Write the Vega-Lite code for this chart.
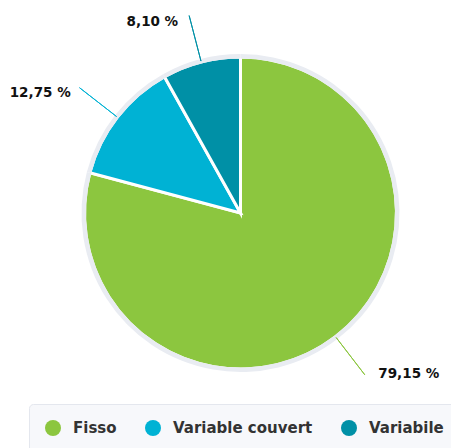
{
  "$schema": "https://vega.github.io/schema/vega-lite/v6.json",
  "width": 423,
  "height": 382,
  "autosize": {"type": "none"},
  "padding": {"left": 29, "top": 22, "right": 0, "bottom": 44},
  "background": "#ffffff",
  "config": {
    "view": {"stroke": null},
    "legend": {
      "orient": "bottom",
      "direction": "horizontal",
      "offset": 0,
      "padding": 16,
      "fillColor": "#f7f8fb",
      "strokeColor": "#e4e7ee",
      "cornerRadius": 4,
      "symbolType": "circle",
      "symbolSize": 256,
      "symbolStrokeWidth": 0,
      "labelFont": "DejaVu Sans",
      "labelFontSize": 15,
      "labelFontWeight": "bold",
      "labelColor": "#333333",
      "labelOffset": 12,
      "columnPadding": 28,
      "labelLimit": 300
    }
  },
  "data": {
    "values": [
      {"label": "Fisso", "value": 79.15, "pct": "79,15 %", "ord": 1},
      {"label": "Variable couvert", "value": 12.75, "pct": "12,75 %", "ord": 2},
      {"label": "Variabile", "value": 8.10, "pct": "8,10 %", "ord": 3}
    ]
  },
  "resolve": {"scale": {"theta": "independent"}},
  "encoding": {
    "color": {
      "field": "label",
      "type": "nominal",
      "scale": {
        "domain": ["Fisso", "Variable couvert", "Variabile"],
        "range": ["#8cc63f", "#00b2d4", "#0090a6"]
      },
      "legend": {"title": null}
    },
    "order": {"field": "ord", "type": "quantitative"}
  },
  "layer": [
    {
      "mark": {"type": "arc", "radius": 156, "stroke": "#ffffff", "strokeWidth": 3},
      "encoding": {"theta": {"field": "value", "type": "quantitative", "stack": true}}
    },
    {
      "mark": {"type": "arc", "radius": 159, "radius2": 154.5, "fill": "#e9ecf2", "stroke": null},
      "encoding": {"theta": {"field": "value", "type": "quantitative", "stack": true}}
    },
    {
      "mark": {"type": "arc", "radius": 204, "radius2": 157, "padAngle": 3.2, "filled": false, "strokeWidth": 1},
      "encoding": {
        "theta": {"field": "value", "type": "quantitative", "stack": true},
        "opacity": {"condition": {"test": "datum.label === 'Fisso'", "value": 0}, "value": 1}
      }
    },
    {
      "transform": [{"filter": "datum.label === 'Fisso'"}],
      "mark": {"type": "arc", "radius": 204, "radius2": 157, "filled": false, "strokeWidth": 1},
      "encoding": {
        "theta": {"field": "value", "type": "quantitative", "stack": null, "scale": {"domain": [0, 100], "range": [0, 3.14159265]}},
        "theta2": {"field": "value"}
      }
    },
    {
      "mark": {"type": "text", "radius": 200, "align": "right", "baseline": "middle", "dx": -12, "dy": 3, "font": "DejaVu Sans", "fontSize": 13.5, "fontWeight": "bold", "fill": "#111111"},
      "encoding": {
        "theta": {"field": "value", "type": "quantitative", "stack": true},
        "text": {"field": "pct"},
        "color": {"value": "#111111"},
        "opacity": {"condition": {"test": "datum.label === 'Fisso'", "value": 0}, "value": 1}
      }
    },
    {
      "mark": {"type": "text", "radius": 200, "align": "left", "baseline": "middle", "dx": 16, "dy": 2, "font": "DejaVu Sans", "fontSize": 13.5, "fontWeight": "bold", "fill": "#111111"},
      "encoding": {
        "theta": {"field": "value", "type": "quantitative", "stack": true},
        "text": {"field": "pct"},
        "color": {"value": "#111111"},
        "opacity": {"condition": {"test": "datum.label === 'Fisso'", "value": 1}, "value": 0}
      }
    }
  ]
}
